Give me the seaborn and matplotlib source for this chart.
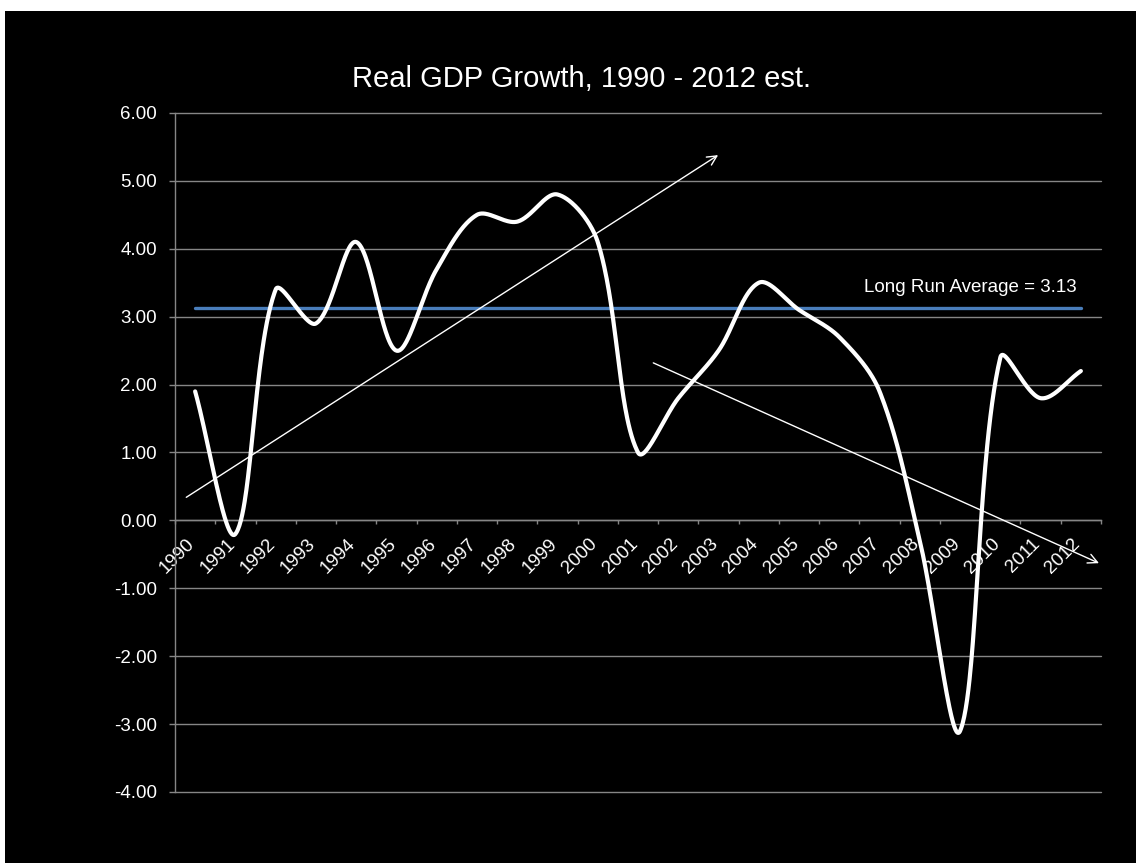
import numpy as np
import pandas as pd
import matplotlib
matplotlib.use("Agg")
import matplotlib.pyplot as plt
import matplotlib.transforms as mtransforms
from matplotlib.patches import Rectangle
import seaborn as sns

# ---- chart data -------------------------------------------------------
years = [str(y) for y in range(1990, 2013)]
growth = [1.9, -0.2, 3.4, 2.9, 4.1, 2.5, 3.7, 4.5, 4.4, 4.8, 4.1, 1.0,
          1.8, 2.5, 3.5, 3.1, 2.7, 1.9, -0.3, -3.1, 2.4, 1.8, 2.2]
long_run_average = 3.13
y_ticks = [-4, -3, -2, -1, 0, 1, 2, 3, 4, 5, 6]
title = "Real GDP Growth, 1990 - 2012 est."
avg_label = f"Long Run Average = {long_run_average:.2f}"

# trend arrows, in (category index, growth) coordinates: (start, end)
up_trend = ((-0.22, 0.34), (12.99, 5.38))
down_trend = ((11.38, 2.32), (22.45, -0.63))

GRID = "#868686"
BLUE = "#4A7EBB"


def bezier_smooth(xs, ys, sx, sy, n=60):
    """Smoothed path through the points: cubic Bezier segments whose
    control handles are scaled by the on-screen segment lengths."""
    p = np.column_stack([np.asarray(xs, float) * sx,
                         np.asarray(ys, float) * sy])
    ext = np.vstack([p[0], p, p[-1]])
    t = np.linspace(0, 1, n)[:, None]
    parts = []
    for i in range(len(p) - 1):
        p0, p1, p2, p3 = ext[i], ext[i + 1], ext[i + 2], ext[i + 3]
        d01 = np.hypot(*(p1 - p0))
        d12 = np.hypot(*(p2 - p1))
        d23 = np.hypot(*(p3 - p2))
        c1 = p1 + (p2 - p0) * (d12 / (d01 + d12)) / 3.0
        c2 = p2 - (p3 - p1) * (d12 / (d12 + d23)) / 3.0
        seg = ((1 - t) ** 3) * p1 + 3 * ((1 - t) ** 2) * t * c1 \
            + 3 * (1 - t) * (t ** 2) * c2 + (t ** 3) * p2
        parts.append(seg if i == 0 else seg[1:])
    out = np.vstack(parts)
    return out[:, 0] / sx, out[:, 1] / sy


sns.set_style("dark")
plt.rcParams["font.family"] = ["Liberation Sans", "DejaVu Sans"]

W, H = 1136, 863
fig = plt.figure(figsize=(W / 100, H / 100), dpi=100, facecolor="white")
fig.patches.append(Rectangle((5 / W, 0), 1 - 5 / W, 1 - 11 / H,
                             transform=fig.transFigure, facecolor="black",
                             edgecolor="none", zorder=-10))

left, right, top, bottom = 175 / W, 1101 / W, 1 - 113 / H, 1 - 792 / H
ax = fig.add_axes([left, bottom, right - left, top - bottom])
ax.set_zorder(1)
ax.set_facecolor("black")

n_cat = len(years)
y_lo, y_hi = y_ticks[0], y_ticks[-1]
px_per_x = (right - left) * W / n_cat
px_per_y = (top - bottom) * H / (y_hi - y_lo)

df = pd.DataFrame({"idx": np.arange(n_cat), "year": years, "growth": growth})
cx, cy = bezier_smooth(df["idx"], df["growth"], px_per_x, px_per_y)
smooth_df = pd.DataFrame({"x": cx, "y": cy})

# long run average line
sns.lineplot(x=df["idx"], y=[long_run_average] * n_cat, ax=ax,
             color=BLUE, lw=2.4, zorder=3)
# growth curve
sns.lineplot(data=smooth_df, x="x", y="y", sort=False, estimator=None,
             ax=ax, color="white", lw=3, zorder=4)

# trend arrows
for start, end in (up_trend, down_trend):
    ax.annotate("", xy=end, xytext=start,
                arrowprops=dict(arrowstyle="->", color="white", lw=1.0,
                                mutation_scale=17, shrinkA=0, shrinkB=0),
                zorder=5, annotation_clip=False)

ax.text(21.9, 3.36, avg_label, ha="right", va="baseline", color="white",
        fontsize=13.5)

# axes
ax.set_xlim(-0.5, n_cat - 0.5)
ax.set_ylim(y_lo, y_hi)
ax.set_yticks(y_ticks, labels=[f"{v:.2f}" for v in y_ticks])
ax.set_xticks(np.arange(-0.5, n_cat, 1.0), labels=[])
ax.set_xticks(np.arange(n_cat), labels=years, minor=True)
ax.set_xlabel("")
ax.set_ylabel("")

ax.grid(False)
ax.yaxis.grid(True, color=GRID, lw=1.0)
ax.set_axisbelow(True)
for gl in ax.get_ygridlines():
    gl.set_clip_on(False)

for side in ("top", "right"):
    ax.spines[side].set_visible(False)
ax.spines["left"].set_color(GRID)
ax.spines["left"].set_linewidth(1.0)
ax.spines["bottom"].set_color(GRID)
ax.spines["bottom"].set_linewidth(1.0)
ax.spines["bottom"].set_position(("data", 0))

ax.tick_params(axis="y", which="major", left=True, length=4.3, width=1.0,
               color=GRID, direction="out", labelcolor="white",
               labelsize=13.5, pad=8.5)
ax.tick_params(axis="x", which="major", bottom=True, length=3, width=1.0,
               color=GRID, direction="out")
ax.tick_params(axis="x", which="minor", bottom=True, length=0,
               labelcolor="white", labelsize=13.5, pad=10.5)

offset = mtransforms.ScaledTranslation(3 / 100, 0, fig.dpi_scale_trans)
for lab in ax.get_xticklabels(minor=True):
    lab.set_fontsize(13.5)
    lab.set_rotation(45)
    lab.set_ha("right")
    lab.set_transform(lab.get_transform() + offset)

fig.text(582 / W, 1 - 87 / H, title, ha="center", va="baseline",
         color="white", fontsize=21)

fig.savefig("out.png", dpi=100, facecolor=fig.get_facecolor())
